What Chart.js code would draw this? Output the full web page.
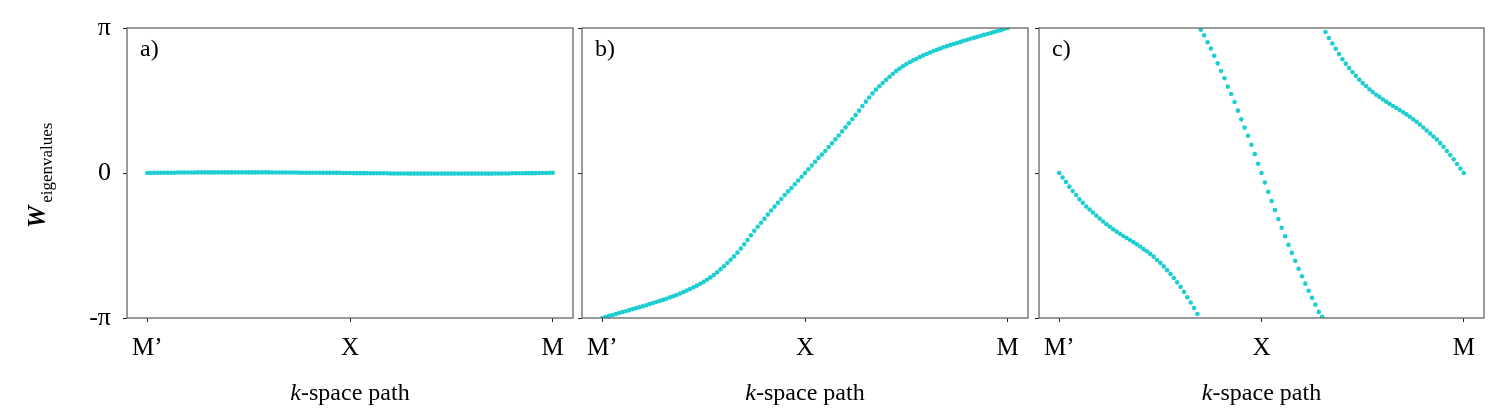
<!DOCTYPE html>
<html><head><meta charset="utf-8">
<script src="https://cdn.jsdelivr.net/npm/chart.js@4.4.1/dist/chart.umd.min.js"></script>
<style>
html,body{margin:0;padding:0;background:#fff;width:1512px;height:420px;overflow:hidden;position:relative}
canvas{position:absolute;top:0}
</style></head><body>
<canvas id="ca" width="580" height="420" style="left:0px"></canvas>
<canvas id="cb" width="465" height="420" style="left:570px"></canvas>
<canvas id="cc" width="485" height="420" style="left:1027px"></canvas>
<script>
// ---- data (values in units of pi, one value per k-point along M' -> X -> M) ----
const panelLabels = ['a)', 'b)', 'c)'];
const xTickPositions = [0, 60, 120];
const xTickLabels = ['M\u2019', 'X', 'M'];
const yTickPositions = [-1, 0, 1];
const yTickLabels = ['-\u03c0', '0', '\u03c0'];

const wilsonA = [
 0.000,0.000,0.001,0.001,0.001,0.002,0.002,0.002,0.002,0.003,
 0.003,0.003,0.003,0.003,0.003,0.004,0.004,0.004,0.004,0.004,
 0.004,0.004,0.004,0.004,0.004,0.004,0.004,0.004,0.004,0.004,
 0.004,0.004,0.004,0.004,0.004,0.004,0.004,0.003,0.003,0.003,
 0.003,0.003,0.003,0.003,0.003,0.002,0.002,0.002,0.002,0.002,
 0.002,0.002,0.001,0.001,0.001,0.001,0.001,0.001,0.000,0.000,
 0.000,
 -0.001,-0.001,-0.001,-0.001,-0.001,-0.002,-0.002,-0.002,-0.002,-0.002,
 -0.002,-0.003,-0.003,-0.003,-0.003,-0.003,-0.003,-0.004,-0.004,-0.004,
 -0.004,-0.004,-0.004,-0.004,-0.004,-0.004,-0.004,-0.004,-0.004,-0.004,
 -0.004,-0.004,-0.004,-0.004,-0.004,-0.004,-0.004,-0.004,-0.004,-0.004,
 -0.004,-0.004,-0.003,-0.003,-0.003,-0.003,-0.003,-0.002,-0.002,-0.002,
 -0.002,-0.001,-0.001,-0.001,-0.001,0.000,0.000,0.000,0.001,0.001
];

const wilsonB = [
 -1.000,-0.993,-0.985,-0.979,-0.973,-0.966,-0.959,-0.953,-0.946,-0.939,
 -0.932,-0.926,-0.919,-0.912,-0.904,-0.897,-0.890,-0.882,-0.875,-0.867,
 -0.858,-0.850,-0.841,-0.831,-0.821,-0.811,-0.800,-0.788,-0.777,-0.764,
 -0.751,-0.736,-0.720,-0.704,-0.685,-0.664,-0.643,-0.621,-0.598,-0.575,
 -0.549,-0.521,-0.492,-0.462,-0.430,-0.399,-0.371,-0.343,-0.315,-0.287,
 -0.259,-0.232,-0.205,-0.179,-0.152,-0.127,-0.104,-0.078,-0.052,-0.026,
 0.000,
 0.026,0.052,0.078,0.104,0.127,0.152,0.179,0.205,0.232,0.259,
 0.287,0.315,0.343,0.371,0.399,0.430,0.462,0.492,0.521,0.549,
 0.575,0.598,0.621,0.643,0.664,0.685,0.704,0.720,0.736,0.751,
 0.764,0.777,0.788,0.800,0.811,0.821,0.831,0.841,0.850,0.858,
 0.867,0.875,0.882,0.890,0.897,0.904,0.912,0.919,0.926,0.932,
 0.939,0.946,0.953,0.959,0.966,0.973,0.979,0.985,0.993,1.000
];

const wilsonC = [
 0.000,-0.031,-0.062,-0.094,-0.124,-0.152,-0.181,-0.206,-0.231,-0.252,
 -0.272,-0.293,-0.314,-0.334,-0.353,-0.371,-0.388,-0.404,-0.419,-0.434,
 -0.448,-0.462,-0.477,-0.492,-0.507,-0.525,-0.540,-0.558,-0.577,-0.600,
 -0.620,-0.644,-0.670,-0.696,-0.724,-0.754,-0.785,-0.820,-0.857,-0.893,
 -0.931,-0.972,
 0.988,0.950,0.902,0.858,0.808,0.756,0.703,0.653,0.596,0.545,
 0.490,0.430,0.370,0.313,0.257,0.195,0.130,0.064,0.000,-0.066,
 -0.130,-0.193,-0.256,-0.318,-0.378,-0.436,-0.496,-0.551,-0.606,-0.660,
 -0.712,-0.763,-0.812,-0.860,-0.908,-0.958,-0.992,
 0.972,0.931,0.893,0.857,0.820,0.785,0.754,0.724,0.696,0.670,
 0.644,0.620,0.600,0.577,0.558,0.540,0.525,0.507,0.492,0.477,
 0.462,0.448,0.434,0.419,0.404,0.388,0.371,0.353,0.334,0.314,
 0.293,0.272,0.252,0.231,0.206,0.181,0.152,0.124,0.094,0.062,
 0.031,0.000
];

// ---- styling ----
const POINT_COLOR = 'rgb(30,206,209)';
const SERIF = '"Liberation Serif", "DejaVu Serif", serif';
const TEXT_COLOR = '#000';

const decorPlugin = {
  id: 'decor',
  afterDatasetsDraw(chart, args, opts) {
    const {ctx, chartArea: a} = chart;
    ctx.save();
    ctx.strokeStyle = '#666';
    ctx.lineWidth = 1.3;
    ctx.strokeRect(a.left, a.top, a.right - a.left, a.bottom - a.top);
    ctx.restore();
  },
  afterDraw(chart, args, opts) {
    const {ctx, chartArea: a} = chart;
    ctx.save();
    ctx.fillStyle = TEXT_COLOR;
    ctx.textBaseline = 'alphabetic';
    ctx.textAlign = 'left';
    // panel label
    ctx.font = '24px ' + SERIF;
    ctx.fillText(opts.panel, a.left + 13, 56);
    // x axis title: italic k + "-space path"
    ctx.font = 'italic 24px ' + SERIF;
    const wk = ctx.measureText('k').width;
    ctx.font = '24px ' + SERIF;
    const wr = ctx.measureText('-space path').width;
    const x0 = (a.left + a.right) / 2 - (wk + wr) / 2;
    ctx.font = 'italic 24px ' + SERIF;
    ctx.fillText('k', x0, 400);
    ctx.font = '24px ' + SERIF;
    ctx.fillText('-space path', x0 + wk, 400);
    // y axis title (first panel only)
    if (opts.yTitle) {
      ctx.translate(45, 228);
      ctx.rotate(-Math.PI / 2);
      ctx.font = 'bold italic 25px ' + SERIF;
      ctx.fillText('W', 0, 0);
      const ww = ctx.measureText('W').width;
      ctx.font = '17px ' + SERIF;
      ctx.fillText('eigenvalues', ww + 3, 7);
    }
    ctx.restore();
  }
};

function makePanel(id, values, label, yAxisWidth, padRight, showYLabels) {
  const pts = values.map((v, i) => ({x: i, y: v}));
  return new Chart(document.getElementById(id), {
    type: 'scatter',
    data: { datasets: [{
      data: pts,
      backgroundColor: POINT_COLOR,
      borderWidth: 0,
      pointRadius: 2.3,
      pointHoverRadius: 2.3,
      clip: 0
    }]},
    options: {
      responsive: false,
      animation: false,
      events: [],
      layout: { padding: { top: 28, right: padRight, left: 0, bottom: 0 } },
      plugins: {
        legend: { display: false },
        tooltip: { enabled: false },
        decor: { panel: label, yTitle: showYLabels }
      },
      scales: {
        x: {
          type: 'linear', min: -6, max: 126,
          afterBuildTicks: s => { s.ticks = xTickPositions.map(v => ({value: v})); },
          afterFit: s => { s.height = 102; },
          grid: { display: true, drawOnChartArea: false, drawTicks: true, tickLength: 4, color: '#222', lineWidth: 1 },
          border: { display: false },
          ticks: {
            padding: 11, color: TEXT_COLOR, maxRotation: 0, autoSkip: false,
            font: { family: SERIF, size: 25 },
            callback: (v) => xTickLabels[xTickPositions.indexOf(v)]
          }
        },
        y: {
          type: 'linear', min: -1, max: 1,
          afterBuildTicks: s => { s.ticks = yTickPositions.map(v => ({value: v})); },
          afterFit: s => { s.width = yAxisWidth; },
          grid: { display: true, drawOnChartArea: false, drawTicks: true, tickLength: 4, color: '#222', lineWidth: 1 },
          border: { display: false },
          ticks: {
            display: showYLabels, padding: 12, color: TEXT_COLOR,
            font: { family: SERIF, size: 26 },
            callback: (v) => yTickLabels[yTickPositions.indexOf(v)]
          }
        }
      }
    },
    plugins: [decorPlugin]
  });
}

makePanel('ca', wilsonA, panelLabels[0], 127, 7, true);
makePanel('cb', wilsonB, panelLabels[1], 12, 7, false);
makePanel('cc', wilsonC, panelLabels[2], 12, 28, false);
</script>
</body></html>
